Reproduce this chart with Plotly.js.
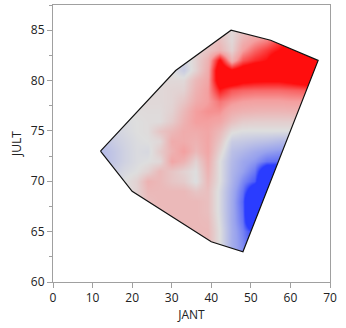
<!DOCTYPE html>
<html><head><meta charset="utf-8">
<script src="https://cdn.plot.ly/plotly-3.0.1.min.js"></script>
<style>html,body{margin:0;padding:0;background:#fff}</style>
</head><body><div id="chart" style="width:346px;height:328px"></div>
<script>
const jant = [12,15,18,21,24,27,30,33,36,39,42,45,48,51,54,57,60,63,66,69];
const jult = [63,64,65,66,67,68,69,70,71,72,73,74,75,76,77,78,79,80,81,82,83,84,85];
const level = [
/*63*/[.1,.1,.1,.1,.3,.3,.3,.3,.3,.3,0,-.4,-.6,-1,-1.2,-1.2,-1.2,-1.2,-1.2,-1.2],
/*64*/[.1,.1,.1,.1,.3,.3,.3,.3,.3,.3,0,-.4,-.62,-1,-1.2,-1.2,-1.2,-1.2,-1.2,-1.2],
/*65*/[.1,.1,.1,.1,.3,.3,.3,.3,.3,.3,0,-.4,-.65,-1.05,-1.2,-1.2,-1.2,-1.2,-1.2,-1.2],
/*66*/[.1,.1,.1,.1,.3,.3,.3,.3,.3,.28,-.03,-.42,-.72,-2,-2,-2,-2,-2,-2,-2],
/*67*/[.1,.1,.1,.1,.28,.28,.3,.3,.3,.25,-.05,-.42,-.75,-2.5,-2.5,-2.5,-2.5,-2.5,-2.5,-2.5],
/*68*/[.1,.1,.1,.1,.25,.3,.3,.3,.3,.25,-.05,-.42,-.78,-2.5,-2.5,-2.5,-2.5,-2.5,-2.5,-2.5],
/*69*/[-.1,-.05,0,.1,.3,.3,.3,.3,.2,.25,-.05,-.4,-.72,-1.5,-2,-2,-2,-2,-2,-2],
/*70*/[-.2,-.1,0,.1,.35,.3,.2,.15,-.02,.3,0,-.35,-.62,-.85,-2,-2,-2,-2,-2,-2],
/*71*/[-.25,-.15,-.05,0,.1,.3,.2,.1,0,.35,0,-.33,-.5,-.7,-1.5,-1.5,-1.5,-1.5,-1.5,-1.5],
/*72*/[-.3,-.2,-.1,-.03,0,.05,.45,.35,.1,.4,0,-.3,-.45,-.55,-.72,-.75,-.75,-.75,-.75,-.75],
/*73*/[-.3,-.2,-.1,-.03,-.05,.15,.35,.5,.3,.45,.1,-.25,-.32,-.42,-.5,-.55,-.55,-.55,-.55,-.55],
/*74*/[-.25,-.15,-.08,-.02,0,.05,.4,.4,.35,.45,.2,-.15,-.18,-.22,-.25,-.3,-.3,-.3,-.3,-.3],
/*75*/[-.2,-.1,-.05,0,.02,.2,.3,.4,.4,.45,.3,.03,-.02,-.02,-.02,-.02,-.02,-.02,-.02,-.02],
/*76*/[-.15,-.08,-.03,0,.02,.02,.15,.35,.5,.5,.45,.25,.15,.13,.13,.13,.13,.15,.18,.18],
/*77*/[-.1,-.05,0,.02,.03,.03,.1,.3,.5,.55,.55,.4,.35,.33,.32,.32,.33,.33,.35,.35],
/*78*/[0,0,0,.03,.05,.05,.08,.2,.4,.5,.65,.55,.5,.48,.48,.48,.5,.5,.52,.52],
/*79*/[0,0,0,.03,.05,.05,.08,.1,.35,.5,.95,.75,.7,.68,.68,.68,.7,.72,.75,.75],
/*80*/[0,0,0,.03,.05,.05,.05,.05,.3,.45,1.25,1.25,1.1,1.05,1.03,1.03,1.1,1.2,1.3,1.3],
/*81*/[0,0,0,0,0,0,0,-.15,.1,.4,1.3,1.05,1.2,1.3,1.3,1.3,1.3,1.3,1.3,1.3],
/*82*/[0,0,0,0,0,0,0,-.1,.1,.35,1.05,.35,.75,.9,1,1.3,1.3,1.3,1.3,1.3],
/*83*/[0,0,0,0,0,0,0,0,.1,.2,.35,.1,.5,.7,.85,1,1.2,1.2,1.2,1.2],
/*84*/[0,0,0,0,0,0,0,0,.1,.2,.25,.05,.35,.5,.6,.8,1,1,1,1],
/*85*/[0,0,0,0,0,0,0,0,.1,.2,.2,.05,.2,.3,.4,.5,.6,.6,.6,.6]
];
const hullX = [12,31,45,55,67,48,40,20,12];
const hullY = [73,81,85,84,82,63,64,69,73];
const frameX = [0,70,70,0,0];
const frameY = [60,60,87.5,87.5,60];
const tickX = [0,10,20,30,40,50,60,70];
const tickY = [60,65,70,75,80,85];
const colors = [[0,'#2a3cff'],[.25,'#98a2ee'],[.5,'#dedede'],[.75,'#f4a0a0'],[1,'#ff0d0d']];

const font = {family:'"Open Sans","Noto Sans",sans-serif',size:12,color:'#222'};
const axis = {showgrid:false,zeroline:false,showline:true,mirror:true,linecolor:'#a0a0a0',linewidth:1,
  ticks:'outside',ticklen:5,tickcolor:'#a0a0a0',tickfont:font};
Plotly.newPlot('chart',[
 {type:'heatmap',x:jant,y:jult,z:level,zmin:-1,zmax:1,zsmooth:'best',colorscale:colors,showscale:false,hoverinfo:'skip'},
 {type:'scatter',mode:'lines',x:frameX.concat(hullX,frameX.slice(0,1)),
  y:frameY.concat(hullY,frameY.slice(0,1)),
  fill:'toself',fillcolor:'#fff',line:{width:0,color:'rgba(0,0,0,0)'},hoverinfo:'skip',showlegend:false},
 {type:'scatter',mode:'lines',x:hullX,y:hullY,line:{color:'#111',width:1.2},hoverinfo:'skip',showlegend:false}
],{
 width:346,height:328,showlegend:false,paper_bgcolor:'#fff',plot_bgcolor:'#fff',
 margin:{l:53,r:16,t:5,b:46},
 xaxis:Object.assign({},axis,{range:[0,70],tickvals:tickX,title:{text:'JANT',font:font,standoff:2}}),
 yaxis:Object.assign({},axis,{range:[60,87.5],tickvals:tickY,minor:{tickvals:[62.5,67.5,72.5,77.5,82.5,87.5],ticks:'outside',ticklen:3,tickcolor:'#a0a0a0'},title:{text:'JULT',font:font,standoff:6}})
},{staticPlot:true,displayModeBar:false});
</script></body></html>
